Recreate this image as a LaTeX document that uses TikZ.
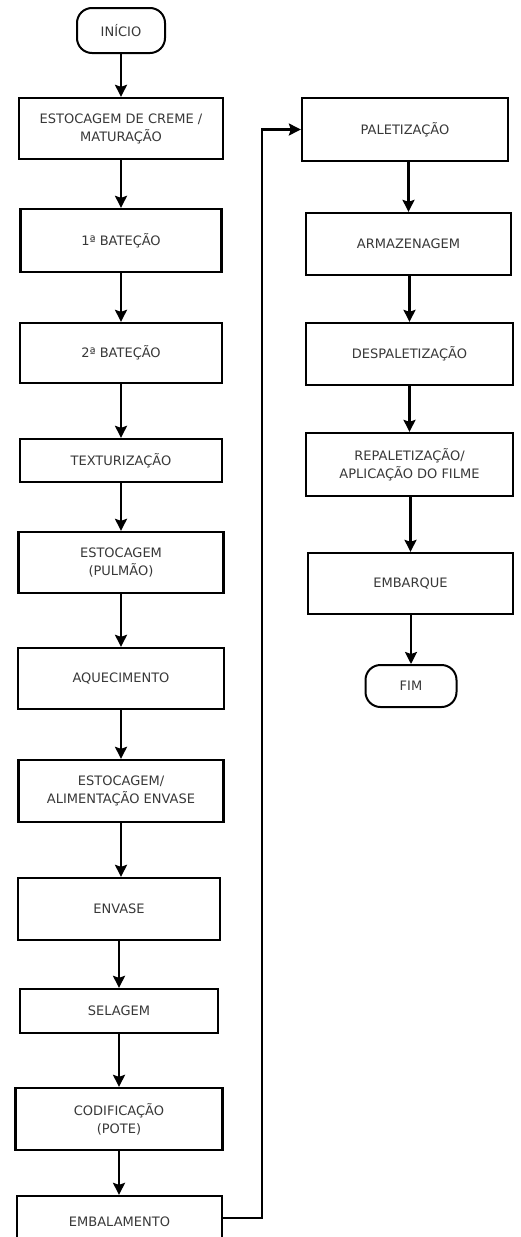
\documentclass[tikz,border=0pt]{standalone}
\usepackage{fontspec}
\setmainfont{DejaVu Sans}
\usetikzlibrary{arrows.meta}
\begin{document}
\begin{tikzpicture}[x=1pt,y=-1pt,
  every node/.style={font=\fontsize{13}{18}\selectfont, text=black!78, align=center, inner sep=0pt},
  procbox/.style={draw=black, line width=2.3pt, fill=white},
  termbox/.style={draw=black, line width=2pt, rounded corners=15pt, fill=white},
  arr/.style={draw=black, line width=2.3pt, -{Stealth[length=12pt,width=12pt,inset=2pt]}},
  link/.style={draw=black, line width=2.3pt}
]
\clip (0,0) rectangle (520,1237);
\fill[white] (0,0) rectangle (520,1237);
% left column
\node[termbox, minimum width=88pt, minimum height=45pt] (ini) at (121,30.5) {INÍCIO};
\node[procbox, minimum width=204pt, minimum height=61pt] (b1) at (121,128.5) {ESTOCAGEM DE CREME /\\MATURAÇÃO};
\node[procbox, minimum width=201pt, minimum height=63pt] (b2) at (121,240.5) {1ª BATEÇÃO};
\node[procbox, minimum width=202pt, minimum height=60pt] (b3) at (121,353) {2ª BATEÇÃO};
\node[procbox, minimum width=202pt, minimum height=43pt] (b4) at (121,460.5) {TEXTURIZAÇÃO};
\node[procbox, minimum width=205pt, minimum height=61pt] (b5) at (121,562.5) {ESTOCAGEM\\(PULMÃO)};
\node[procbox, minimum width=206pt, minimum height=61pt] (b6) at (121,678.5) {AQUECIMENTO};
\node[procbox, minimum width=205pt, minimum height=62pt] (b7) at (121,791) {ESTOCAGEM/\\ALIMENTAÇÃO ENVASE};
\node[procbox, minimum width=202pt, minimum height=62pt] (b8) at (119,909) {ENVASE};
\node[procbox, minimum width=198pt, minimum height=44pt] (b9) at (119,1011) {SELAGEM};
\node[procbox, minimum width=207pt, minimum height=62pt] (b10) at (119,1119) {CODIFICAÇÃO\\(POTE)};
\node[procbox, minimum width=205pt, minimum height=62pt] (b11) at (119.5,1227) {\raisebox{10pt}{EMBALAMENTO}};
% right column
\node[procbox, minimum width=206pt, minimum height=63pt] (r1) at (405,129.5) {PALETIZAÇÃO};
\node[procbox, minimum width=205pt, minimum height=62pt] (r2) at (408.5,244) {ARMAZENAGEM};
\node[procbox, minimum width=207pt, minimum height=62pt] (r3) at (409.5,354) {DESPALETIZAÇÃO};
\node[procbox, minimum width=207pt, minimum height=63pt] (r4) at (409.5,464.5) {REPALETIZAÇÃO/\\APLICAÇÃO DO FILME};
\node[procbox, minimum width=205pt, minimum height=61pt] (r5) at (410.5,583.5) {EMBARQUE};
\node[termbox, minimum width=91pt, minimum height=42pt] (fim) at (411,686) {FIM};
% connectors left
\draw[arr] (ini.south) -- (ini.south |- b1.north);
\draw[arr] (b1.south) -- (b1.south |- b2.north);
\draw[arr] (b2.south) -- (b2.south |- b3.north);
\draw[arr] (b3.south) -- (b3.south |- b4.north);
\draw[arr] (b4.south) -- (b4.south |- b5.north);
\draw[arr] (b5.south) -- (b5.south |- b6.north);
\draw[arr] (b6.south) -- (b6.south |- b7.north);
\draw[arr] (b7.south) -- (b7.south |- b8.north);
\draw[arr] (b8.south) -- (b8.south |- b9.north);
\draw[arr] (b9.south) -- (b9.south |- b10.north);
\draw[arr] (b10.south) -- (b10.south |- b11.north);
% crossing connector
\coordinate (bend) at (262,129.5);
\draw[arr] ([yshift=9pt]b11.east) -| (bend) -- (r1.west);
% connectors right
\draw[arr] (r2.north |- r1.south) -- (r2.north);
\draw[arr] (r3.north |- r2.south) -- (r3.north);
\draw[arr] (r4.north |- r3.south) -- (r4.north);
\draw[arr] (r5.north |- r4.south) -- (r5.north);
\draw[arr] (fim.north |- r5.south) -- (fim.north);
\end{tikzpicture}
\end{document}
